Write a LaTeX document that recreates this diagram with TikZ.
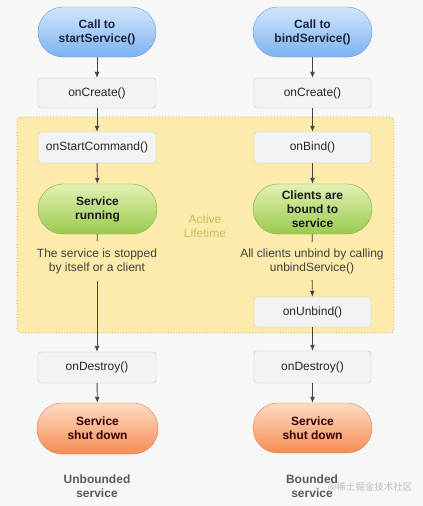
\documentclass[tikz,border=0pt]{standalone}
\usepackage{fontspec}
\setmainfont{Liberation Sans}
\newfontfamily\cjk{Noto Sans CJK SC}
\usetikzlibrary{arrows.meta}
\definecolor{bgc}{HTML}{F7F7F7}
\definecolor{bluet}{HTML}{D2E6FC}
\definecolor{blueb}{HTML}{7CB3EF}
\definecolor{bluel}{HTML}{6A9AD6}
\definecolor{greent}{HTML}{E2F1B4}
\definecolor{greenb}{HTML}{9ACA4E}
\definecolor{greenl}{HTML}{87A84A}
\definecolor{oranget}{HTML}{FEDCC3}
\definecolor{orangeb}{HTML}{F78C54}
\definecolor{orangel}{HTML}{D6814C}
\definecolor{boxf}{HTML}{F3F3F3}
\definecolor{boxl}{HTML}{C6C6C6}
\definecolor{yelf}{HTML}{FCEBAA}
\definecolor{yell}{HTML}{B8A870}
\definecolor{actc}{HTML}{CDBC5E}
\definecolor{arrc}{HTML}{444444}
\definecolor{labc}{HTML}{5A5A5A}
\definecolor{navy}{HTML}{1A2640}
\tikzset{
  every node/.style={font=\fontsize{12}{14}\selectfont, text=black!85},
  pill/.style={rectangle, rounded corners=25pt, minimum height=50pt, inner sep=0pt, align=center, font=\fontsize{12}{14}\selectfont\bfseries},
  bluepill/.style={pill, shade, top color=bluet, bottom color=blueb, draw=bluel, text=navy},
  greenpill/.style={pill, shade, top color=greent, bottom color=greenb, draw=greenl, text=black!90},
  orangepill/.style={pill, shade, top color=oranget, bottom color=orangeb, draw=orangel, text=black!80!red},
  gbox/.style={rectangle, rounded corners=3pt, fill=boxf, draw=boxl, minimum height=31pt, inner sep=0pt},
  note/.style={align=center, inner xsep=0pt, inner ysep=7pt, text=black!75},
  conn/.style={draw=arrc, line width=0.9pt},
  arr/.style={conn, -{Latex[length=6pt,width=5pt]}},
  bottomlab/.style={align=center, font=\fontsize{12}{14}\selectfont\bfseries, text=labc},
}
\begin{document}
\begin{tikzpicture}[x=1pt,y=-1pt]
\useasboundingbox (0,0) rectangle (423,506);
\fill[bgc] (0,0) rectangle (423,506);
% active lifetime area
\draw[fill=yelf, draw=yell, dotted, line width=0.8pt, rounded corners=4pt] (17,117) rectangle (394,333);
\node[text=actc, align=center] (act) at (205,226) {Active\\Lifetime};

% left column
\node[bluepill, minimum width=118pt] (call1) at (97,32) {Call to\\startService()};
\node[gbox, minimum width=118pt, minimum height=30pt] (create1) at (97,93) {onCreate()};
\node[gbox, minimum width=118pt] (start) at (97,147.5) {onStartCommand()};
\node[greenpill, minimum width=119pt] (run) at (97.5,209) {Service\\running};
\node[note] (stop) at (97,261) {The service is stopped\\by itself or a client};
\node[gbox, minimum width=118pt] (destroy1) at (97,367.5) {onDestroy()};
\node[orangepill, minimum width=121pt, minimum height=51pt] (shut1) at (97.5,428.5) {Service\\shut down};
\node[bottomlab] (lab1) at (97,486) {Unbounded\\service};

% right column
\node[bluepill, minimum width=119pt] (call2) at (312.5,32) {Call to\\bindService()};
\node[gbox, minimum width=117pt, minimum height=30pt] (create2) at (312.5,93) {onCreate()};
\node[gbox, minimum width=117pt] (bind) at (312.5,147.5) {onBind()};
\node[greenpill, minimum width=119pt] (bound) at (312.5,209) {Clients are\\bound to\\service};
\node[note, inner ysep=6pt] (unb) at (312,261) {All clients unbind by calling\\unbindService()};
\node[gbox, minimum width=117pt, minimum height=30pt] (unbind) at (312.5,312) {onUnbind()};
\node[gbox, minimum width=117pt, minimum height=32pt] (destroy2) at (312.5,367) {onDestroy()};
\node[orangepill, minimum width=119pt] (shut2) at (312.5,428) {Service\\shut down};
\node[bottomlab] (lab2) at (312,486) {Bounded\\service};
\node[font=\cjk\fontsize{9.5}{11}\selectfont, text=black!28, opacity=0.9] (wm) at (370,487) {@稀土掘金技术社区};

% connectors left
\draw[arr] (call1) -- (create1);
\draw[arr] (create1) -- (start);
\draw[arr] (start) -- (run);
\draw[conn] (run) -- (stop);
\draw[arr] (stop) -- (destroy1);
\draw[arr] (destroy1) -- (shut1);
% connectors right
\draw[arr] (call2) -- (create2);
\draw[arr] (create2) -- (bind);
\draw[arr] (bind) -- (bound);
\draw[conn] (bound) -- (unb);
\draw[arr] (unb) -- (unbind);
\draw[arr] (unbind) -- (destroy2);
\draw[arr] (destroy2) -- (shut2);
\end{tikzpicture}
\end{document}
